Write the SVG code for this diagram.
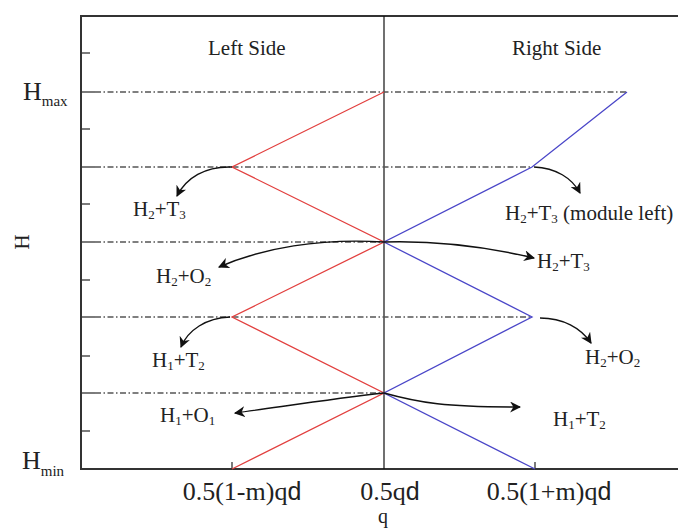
<svg xmlns="http://www.w3.org/2000/svg" width="678" height="529" viewBox="0 0 678 529">
<defs>
<marker id="ah" viewBox="0 0 10 10" refX="9" refY="5" markerWidth="11" markerHeight="11" markerUnits="userSpaceOnUse" orient="auto">
<path d="M0,0 L10,5 L0,10 L3,5 Z" fill="#111"/>
</marker>
<style>
.frame{stroke:#333;stroke-width:2;fill:none}
.tick{stroke:#333;stroke-width:1.3}
.dd{stroke:#555;stroke-width:1.3;stroke-dasharray:6 2.5 1.5 2.5;fill:none}
.red{stroke:#e2403f;stroke-width:1.3;fill:none}
.blue{stroke:#4a46c8;stroke-width:1.3;fill:none}
.arr{stroke:#111;stroke-width:1.4;fill:none;marker-end:url(#ah)}
.lbl{font-family:"Liberation Serif","Times New Roman",serif;font-size:21px;fill:#222}
.sub{font-size:13px}
.ax{font-family:"Liberation Serif","Times New Roman",serif;font-size:26px;fill:#222}
.axs{font-size:15px}
.sans{font-family:"Liberation Sans",Arial,sans-serif;font-size:25px}
</style>
</defs>
<rect width="678" height="529" fill="#fff"/>
<g id="axes">
<path class="frame" d="M678,16 H81 V469 H678"/>
<line x1="384" y1="16" x2="384" y2="469" stroke="#111" stroke-width="1.2"/>
<g class="tick">
<line x1="81" y1="53" x2="90" y2="53"/><line x1="81" y1="92" x2="95" y2="92"/>
<line x1="81" y1="129" x2="90" y2="129"/><line x1="81" y1="167" x2="95" y2="167"/>
<line x1="81" y1="204" x2="90" y2="204"/><line x1="81" y1="242" x2="95" y2="242"/>
<line x1="81" y1="280" x2="90" y2="280"/><line x1="81" y1="317" x2="95" y2="317"/>
<line x1="81" y1="356" x2="90" y2="356"/><line x1="81" y1="393" x2="95" y2="393"/>
<line x1="81" y1="431" x2="90" y2="431"/>
<line x1="232" y1="462" x2="232" y2="469"/><line x1="535" y1="462" x2="535" y2="469"/>
</g>
</g>
<g id="gridlines">
<line class="dd" x1="95" y1="92" x2="627" y2="92"/>
<line class="dd" x1="95" y1="167" x2="532" y2="167"/>
<line class="dd" x1="95" y1="242" x2="384" y2="242"/>
<line class="dd" x1="95" y1="317" x2="532" y2="317"/>
<line class="dd" x1="95" y1="393" x2="384" y2="393"/>
</g>
<g id="left-side-curve">
<polyline class="red" points="384,92 232,167 384,242 232,317 384,393 232,469"/>
</g>
<g id="right-side-curve">
<polyline class="blue" points="627,92 532,167 384,242 532,317 384,393 535,469"/>
</g>
<g id="connectors">
<path class="arr" d="M232,167 C205,166 186,178 177,196"/>
<path class="arr" d="M534,167 C556,168 572,178 580,193"/>
<path class="arr" d="M384,242 C320,238 262,248 219,267"/>
<path class="arr" d="M384,242 C450,240 500,250 534,258"/>
<path class="arr" d="M230,317 C206,318 188,330 181,347"/>
<path class="arr" d="M540,318 C563,318 581,328 591,343"/>
<path class="arr" d="M384,393 C330,399 280,407 235,413"/>
<path class="arr" d="M384,393 C420,403 445,407 520,407"/>
</g>
<g id="labels">
<text class="lbl" x="208" y="55">Left Side</text>
<text class="lbl" x="512" y="55">Right Side</text>
<text class="ax" x="23" y="100">H<tspan class="axs" dy="6">max</tspan></text>
<text class="ax" x="22" y="469">H<tspan class="axs" dy="7">min</tspan></text>
<text class="lbl" transform="translate(29,242) rotate(-90)" text-anchor="middle">H</text>
<text class="lbl" x="133" y="216">H<tspan class="sub" dy="3">2</tspan><tspan dy="-3">+T</tspan><tspan class="sub" dy="3">3</tspan></text>
<text class="lbl" x="505" y="220">H<tspan class="sub" dy="3">2</tspan><tspan dy="-3">+T</tspan><tspan class="sub" dy="3">3</tspan><tspan dy="-3"> (module left)</tspan></text>
<text class="lbl" x="156" y="283">H<tspan class="sub" dy="3">2</tspan><tspan dy="-3">+O</tspan><tspan class="sub" dy="3">2</tspan></text>
<text class="lbl" x="537" y="268">H<tspan class="sub" dy="3">2</tspan><tspan dy="-3">+T</tspan><tspan class="sub" dy="3">3</tspan></text>
<text class="lbl" x="152" y="367">H<tspan class="sub" dy="3">1</tspan><tspan dy="-3">+T</tspan><tspan class="sub" dy="3">2</tspan></text>
<text class="lbl" x="585" y="364">H<tspan class="sub" dy="3">2</tspan><tspan dy="-3">+O</tspan><tspan class="sub" dy="3">2</tspan></text>
<text class="lbl" x="160" y="422">H<tspan class="sub" dy="3">1</tspan><tspan dy="-3">+O</tspan><tspan class="sub" dy="3">1</tspan></text>
<text class="lbl" x="553" y="426">H<tspan class="sub" dy="3">1</tspan><tspan dy="-3">+T</tspan><tspan class="sub" dy="3">2</tspan></text>
<text class="ax" x="242" y="500" text-anchor="middle">0.5(1-m)q<tspan class="sans">d</tspan></text>
<text class="ax" x="390" y="500" text-anchor="middle">0.5q<tspan class="sans">d</tspan></text>
<text class="ax" x="549" y="500" text-anchor="middle">0.5(1+m)q<tspan class="sans">d</tspan></text>
<text class="ax" x="383" y="523" text-anchor="middle" style="font-size:20px">q</text>
</g>
</svg>
